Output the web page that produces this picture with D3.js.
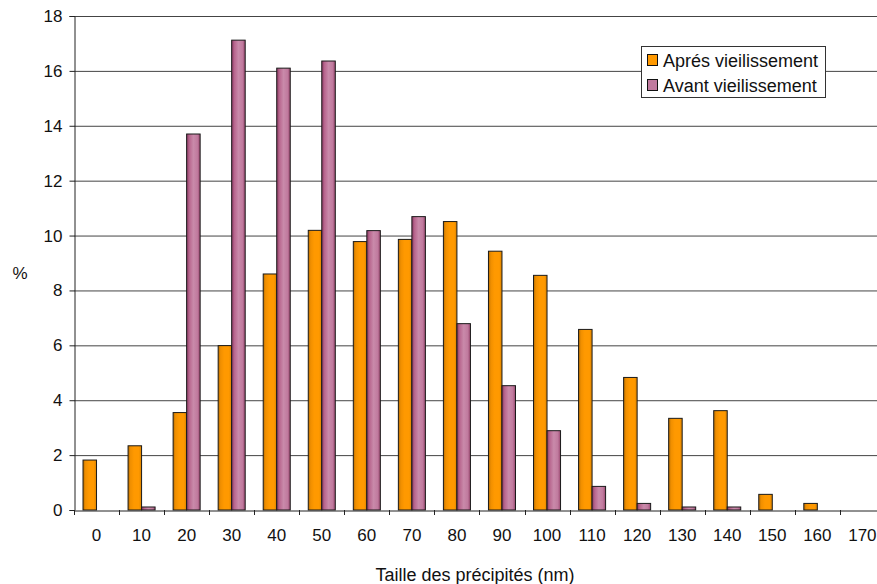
<!DOCTYPE html>
<html>
<head>
<meta charset="utf-8">
<script src="https://cdn.jsdelivr.net/npm/d3@7"></script>
<style>
html,body{margin:0;padding:0;background:#fff;}
svg{display:block;font-family:"Liberation Sans",Arial,sans-serif;}
</style>
</head>
<body>
<svg id="chart" width="877" height="584"></svg>
<script>
const categories = ["0","10","20","30","40","50","60","70","80","90","100","110","120","130","140","150","160","170"];
const apresValues = [1.82,2.34,3.55,5.99,8.6,10.19,9.78,9.86,10.51,9.43,8.55,6.58,4.83,3.34,3.62,0.57,0.24,0];
const avantValues = [0,0.11,13.70,17.12,16.1,16.36,10.18,10.69,6.79,4.53,2.89,0.86,0.24,0.11,0.11,0,0,0];
const seriesNames = ["Aprés vieilissement","Avant vieilissement"];
const yTicks = [0,2,4,6,8,10,12,14,16,18];

(function(){
const svg = d3.select("#chart");
const pLeft = 74, pTop = 16, pBottom = 510, step = 45.05;
const pRight = pLeft + step * categories.length;

const x = d3.scaleBand().domain(categories).range([pLeft, pRight]).paddingInner(0.4).paddingOuter(0.2);
const xs = d3.scaleBand().domain([0,1]).range([0, x.bandwidth()]);
const y = d3.scaleLinear().domain([0,18]).range([pBottom, pTop]);

const defs = svg.append("defs");
function grad(id, stops){
  const g = defs.append("linearGradient").attr("id", id).attr("x1","0").attr("x2","1").attr("y1","0").attr("y2","0");
  stops.forEach(s => g.append("stop").attr("offset", s[0]).attr("stop-color", s[1]));
}
grad("gOrange", [[0,"#b86e00"],[0.18,"#f08f00"],[0.45,"#ff9900"],[0.8,"#ff9900"],[1,"#d98200"]]);
grad("gPink", [[0,"#8a3a62"],[0.2,"#b8668e"],[0.5,"#c98aaa"],[0.8,"#c07a9e"],[1,"#99486f"]]);
const fills = ["url(#gOrange)","url(#gPink)"];
const swatchFills = ["#ff9900","#c07a9e"];

// gridlines
svg.append("g").selectAll("line").data(yTicks.filter(d => d > 0)).join("line")
  .attr("x1", pLeft).attr("x2", pRight)
  .attr("y1", d => y(d) + 0.5).attr("y2", d => y(d) + 0.5)
  .attr("stroke", "#444").attr("stroke-width", 1);

// bars
const series = [apresValues, avantValues];
series.forEach((vals, si) => {
  svg.append("g").selectAll("rect").data(categories.map((c, i) => ({c, v: vals[i]})).filter(d => d.v > 0)).join("rect")
    .attr("x", d => x(d.c) + xs(si))
    .attr("y", d => y(d.v))
    .attr("width", xs.bandwidth())
    .attr("height", d => y(0) - y(d.v))
    .attr("fill", fills[si])
    .attr("stroke", "#1a1a1a").attr("stroke-width", 1);
});

// y axis
const yAxis = d3.axisLeft(y).tickValues(yTicks).tickSize(5).tickPadding(7).tickFormat(d3.format("d"));
const gy = svg.append("g").attr("transform", `translate(${pLeft + 0.5},0)`).call(yAxis);
gy.select(".domain").attr("stroke", "#222");
gy.selectAll(".tick line").attr("stroke", "#222");
gy.selectAll("text").attr("font-size", 17).attr("fill", "#111").attr("font-family", '"Liberation Sans",Arial,sans-serif');

// x axis
const xAxis = d3.axisBottom(x).tickSize(0).tickPadding(18);
const gx = svg.append("g").attr("transform", `translate(0,${pBottom + 0.5})`).call(xAxis);
gx.select(".domain").attr("stroke", "#222");
gx.selectAll("text").attr("font-size", 17).attr("fill", "#111").attr("font-family", '"Liberation Sans",Arial,sans-serif');
// category boundary ticks
svg.append("g").selectAll("line").data(d3.range(categories.length + 1)).join("line")
  .attr("x1", i => Math.round(pLeft + i * x.step()) + 0.5)
  .attr("x2", i => Math.round(pLeft + i * x.step()) + 0.5)
  .attr("y1", pBottom).attr("y2", pBottom + 5)
  .attr("stroke", "#222");

// axis titles
svg.append("text").attr("x", 475).attr("y", 581).attr("text-anchor", "middle")
  .attr("font-size", 18).attr("fill", "#111").text("Taille des précipités (nm)");
svg.append("text").attr("x", 20).attr("y", 279).attr("text-anchor", "middle")
  .attr("font-size", 17).attr("fill", "#111").text("%");

// legend
const lg = svg.append("g");
lg.append("rect").attr("x", 641.5).attr("y", 46.5).attr("width", 184).attr("height", 51)
  .attr("fill", "#fff").attr("stroke", "#333");
seriesNames.forEach((n, i) => {
  lg.append("rect").attr("x", 647.5).attr("y", 54.5 + i * 25).attr("width", 10).attr("height", 11)
    .attr("fill", swatchFills[i]).attr("stroke", "#111");
  lg.append("text").attr("x", 663).attr("y", 66.5 + i * 25).attr("font-size", 18).attr("fill", "#111").text(n);
});
})();
</script>
</body>
</html>
